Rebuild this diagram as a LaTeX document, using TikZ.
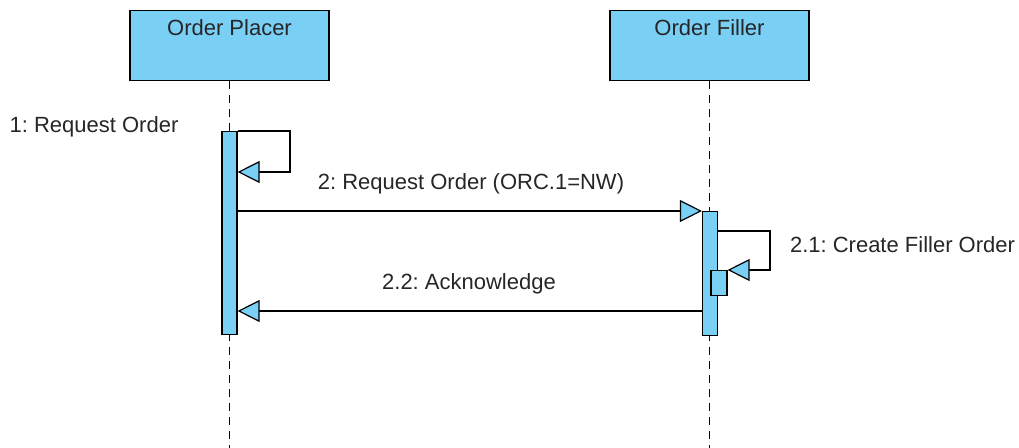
\documentclass[tikz,border=0pt]{standalone}
\usepackage{fontspec}
\setmainfont{Liberation Sans}
\usetikzlibrary{arrows.meta, positioning}
\definecolor{vpblue}{RGB}{122,207,245}
\frenchspacing

\begin{document}
\begin{tikzpicture}[
  x=0.5pt, y=-0.5pt,
  font=\fontsize{11}{13}\selectfont, text=black!85,
  lifebox/.style={rectangle, draw=black, fill=vpblue, line width=0.65pt,
    minimum width=99.5pt, minimum height=35pt, anchor=north, inner sep=0pt},
  actbar/.style={rectangle, draw=black, fill=vpblue, line width=0.6pt,
    minimum width=7.5pt, anchor=north, inner sep=0pt},
  lifeline/.style={draw=black, line width=0.6pt, dash pattern=on 4pt off 3pt},
  msg/.style={draw=black, line width=0.6pt,
    -{Triangle[length=11pt, width=11pt, fill=vpblue]}},
  msglbl/.style={inner sep=0pt},
]
\useasboundingbox (0,0) rectangle (1019,448);

% Lifeline heads
\node[lifebox, label={[anchor=north, inner sep=0pt, yshift=-4.5pt]north:Order Placer}] (placer) at (229.5,10) {};
\node[lifebox, label={[anchor=north, inner sep=0pt, yshift=-4.5pt]north:Order Filler}] (filler) at (709.5,10) {};

% Lifelines
\coordinate (placerEnd) at (229.5,448);
\coordinate (fillerEnd) at (709.5,448);
\draw[lifeline] (placer.south) -- (placerEnd);
\draw[lifeline] (filler.south) -- (fillerEnd);

% Activations
\node[actbar, minimum height=101.5pt] (bar1) at (229.5,131) {};
\node[actbar, minimum height=62pt] (bar2) at (710,211) {};
\node[actbar, minimum width=8pt, minimum height=12.5pt] (sub) at (719,270) {};

% 1: self call
\coordinate (loop1) at (290,172);
\draw[msg] (bar1.north east) -| (loop1) -- (bar1.east |- loop1);
\node[msglbl] (m1) at (94,127) {1: Request Order};

% 2: placer -> filler
\draw[msg] (bar1.east |- bar2.north) -- (bar2.north west);
\node[msglbl] (m2) at (471,184) {2: Request Order (ORC.1=NW)};

% 2.1: self call
\coordinate (loop2) at (770,270);
\draw[msg] ([yshift=-10pt]bar2.north east) -| (loop2) -- (sub.north east);
\node[msglbl] (m21) at (902.5,245) {2.1: Create Filler Order};

% 2.2: reply
\coordinate (ackY) at (470,311);
\draw[msg] (bar2.west |- ackY) -- (bar1.east |- ackY);
\node[msglbl] (m22) at (469,284) {2.2: Acknowledge};

\end{tikzpicture}
\end{document}
